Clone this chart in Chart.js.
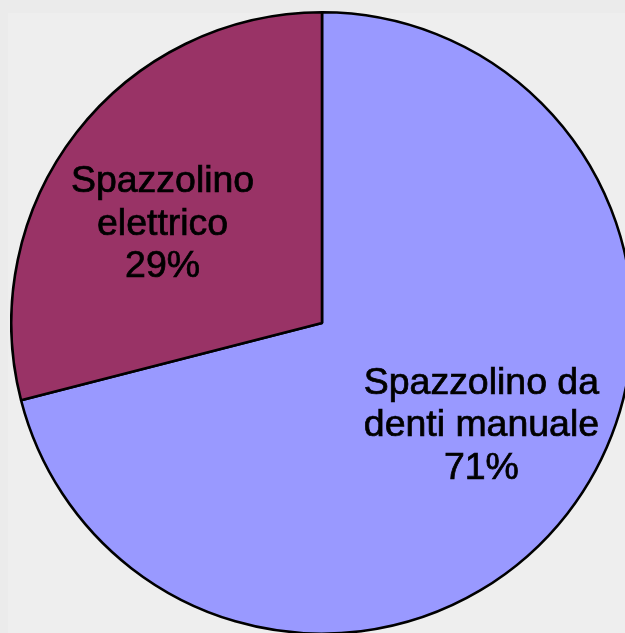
<!DOCTYPE html>
<html>
<head>
<meta charset="utf-8">
<script src="https://cdn.jsdelivr.net/npm/chart.js@4"></script>
<style>
    html, body {
        margin: 0;
        padding: 0;
        width: 625px;
        height: 633px;
        overflow: hidden;
        background: #ebebeb;
    }
    .panel {
        position: absolute;
        left: 8px;
        top: 13px;
        right: 0;
        bottom: 0;
        background: #eeeeee;
    }
    #pie {
        position: absolute;
        left: 10px;
        top: 11px;
    }
</style>
</head>
<body>
<div class="panel"></div>
<canvas id="pie" width="624" height="624"></canvas>
<script>
const categories = [
    ['Spazzolino da', 'denti manuale'],
    ['Spazzolino', 'elettrico']
];
const values = [71, 29];
const sliceColors = ['#9999ff', '#993366'];

// draws "name / pct%" inside each slice
const sliceLabels = {
    id: 'sliceLabels',
    afterDatasetsDraw(chart) {
        const ctx = chart.ctx;
        const meta = chart.getDatasetMeta(0);
        const total = values.reduce((a, b) => a + b, 0);
        const shift = -5.5 * Math.PI / 180;

        meta.data.forEach((arc, i) => {
            const p = arc.getProps(['x', 'y', 'startAngle', 'endAngle', 'outerRadius'], true);
            const mid = (p.startAngle + p.endAngle) / 2 + shift;
            const r = p.outerRadius * 0.607;
            const cx = p.x + Math.cos(mid) * r;
            const cy = p.y + Math.sin(mid) * r;

            const lines = [...categories[i], Math.round(values[i] / total * 100) + '%'];
            const lineHeight = 42.5;

            ctx.save();
            ctx.translate(cx, cy);
            ctx.scale(1.04, 1);
            ctx.fillStyle = '#000000';
            ctx.strokeStyle = '#000000';
            ctx.lineWidth = 0.7;
            ctx.font = '36px "Liberation Sans", Arial, sans-serif';
            ctx.textAlign = 'center';
            ctx.textBaseline = 'alphabetic';
            lines.forEach((line, j) => {
                const y = (j - (lines.length - 1) / 2) * lineHeight + 12.5;
                ctx.fillText(line, 0, y);
                ctx.strokeText(line, 0, y);
            });
            ctx.restore();
        });
    }
};

const pieCtx = document.getElementById('pie').getContext('2d');
const pieChart = new Chart(pieCtx, {
    type: 'pie',
    data: {
        labels: categories,
        datasets: [{
            data: values,
            backgroundColor: sliceColors,
            borderColor: '#000000',
            borderWidth: 2.6,
        }]
    },
    options: {
        responsive: false,
        animation: false,
        layout: {
            padding: 0
        },
        plugins: {
            legend: {
                display: false
            },
            tooltip: {
                enabled: false
            }
        }
    },
    plugins: [sliceLabels]
});
</script>
</body>
</html>
